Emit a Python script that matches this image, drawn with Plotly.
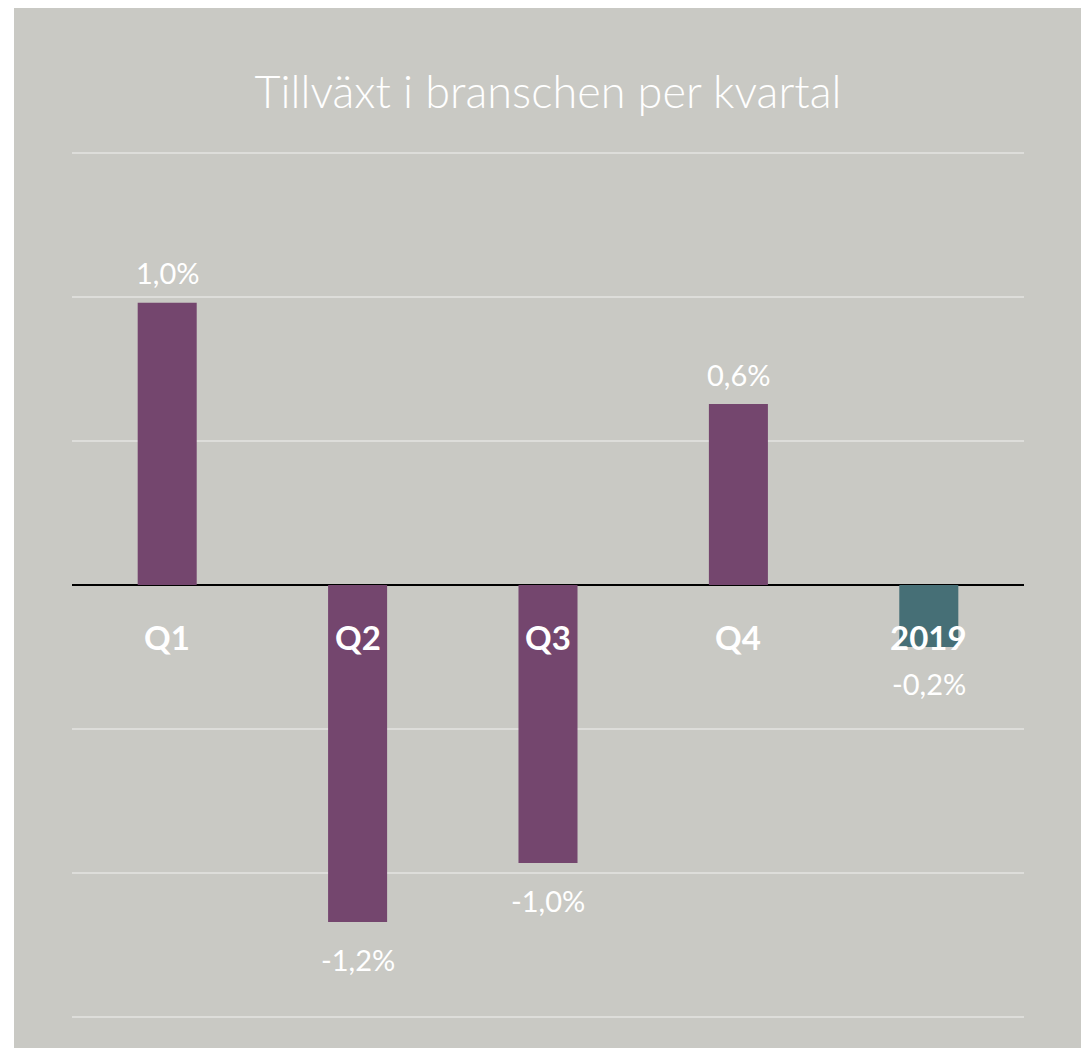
import plotly.graph_objects as go

categories = ["Q1", "Q2", "Q3", "Q4", "2019"]
values = [0.98, -1.17, -0.965, 0.628, -0.215]
value_labels = ["1,0%", "-1,2%", "-1,0%", "0,6%", "-0,2%"]
bar_colors = ["#74466E", "#74466E", "#74466E", "#74466E", "#466F76"]

BG = "#C9C9C4"
OFF = 8  # page body margin
W, H = 1089 - OFF, 1048 - OFF
YMAX = 1.51
PX_PER_UNIT = 288
ph = int(round(2 * YMAX * PX_PER_UNIT))
L, T, pw = 72 - OFF, 585 - ph // 2 - OFF, 952
R, B = W - L - pw, H - T - ph

fig = go.Figure()
fig.add_trace(go.Bar(
    x=list(range(len(categories))), y=values,
    marker=dict(color=bar_colors, line=dict(width=0)),
    hoverinfo="skip", showlegend=False,
))

# background panel (white strip at left)
fig.add_shape(type="rect", xref="paper", yref="paper", layer="below",
              x0=(14 - OFF - L) / pw, x1=(W - L) / pw + 0.05,
              y0=-(B + 10) / ph, y1=(H - B + 10) / ph,
              fillcolor=BG, line=dict(width=0))

for i, (c, v, t) in enumerate(zip(categories, values, value_labels)):
    fig.add_annotation(x=i, y=v, text=t, showarrow=False, yanchor="middle",
                       yshift=30 if v >= 0 else -37,
                       font=dict(family="Lato", size=29, color="white"))
    fig.add_annotation(x=i, y=0, text="<b>" + c + "</b>", showarrow=False,
                       yanchor="middle", yshift=-52,
                       font=dict(family="Lato", size=33, color="white"))

fig.update_layout(
    width=W, height=H,
    margin=dict(l=L, r=R, t=T, b=B, pad=0),
    paper_bgcolor="white", plot_bgcolor=BG,
    bargap=0.69,
    title=dict(text="Tillväxt i branschen per kvartal", x=(L + pw / 2) / W, xanchor="center",
               y=1 - (92 - OFF) / H, yanchor="middle",
               font=dict(family="Lato", size=45, color="white", weight=300)),
    xaxis=dict(range=[-0.5, len(categories) - 0.5], showticklabels=False, showgrid=False,
               zeroline=False, showline=False, ticks=""),
    yaxis=dict(range=[-YMAX, YMAX], tickvals=[-1.5, -1, -0.5, 0.5, 1, 1.5],
               showticklabels=False, showgrid=True,
               gridcolor="#DDDDDA", gridwidth=2, zeroline=True, zerolinecolor="black",
               zerolinewidth=2, showline=False, ticks=""),
)

fig.write_html("out.html")
